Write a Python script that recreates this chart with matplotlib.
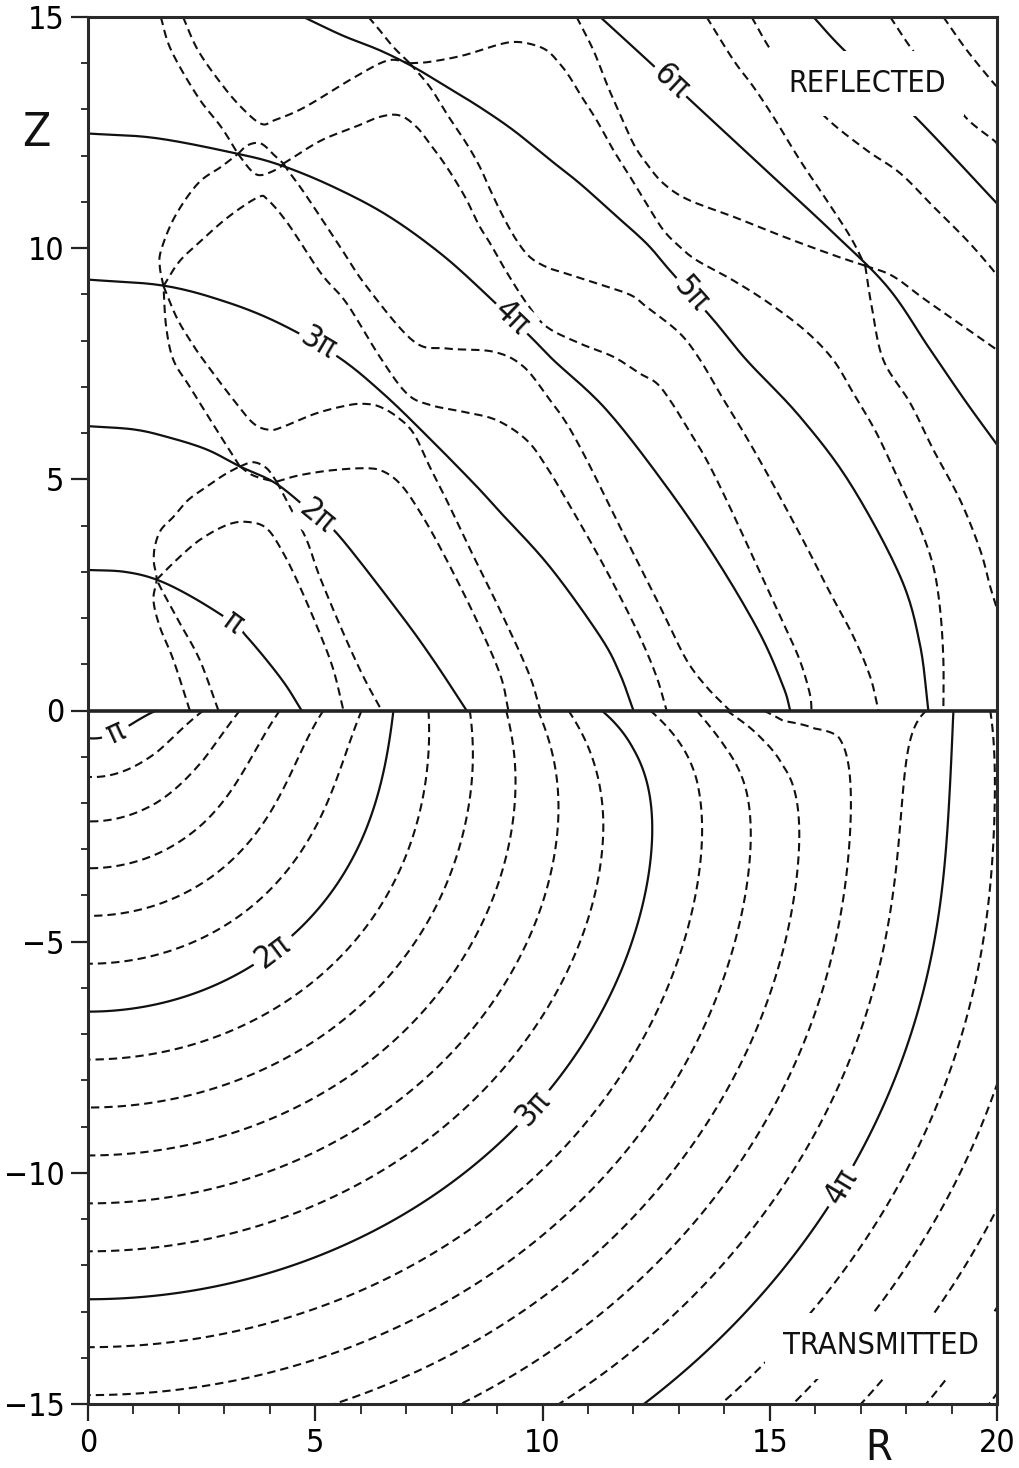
import numpy as np
import matplotlib
matplotlib.use("Agg")
import matplotlib.pyplot as plt
from matplotlib import font_manager

# Prefer a narrow sans face for all text when one is available.
_faces = {(f.name, f.stretch) for f in font_manager.fontManager.ttflist}
_names = {n for n, _ in _faces}
if 'Liberation Sans Narrow' in _names:
    plt.rcParams['font.family'] = ['Liberation Sans Narrow', 'DejaVu Sans']
elif ('DejaVu Sans', 'condensed') in _faces or ('DejaVu Sans', 'semi-condensed') in _faces:
    plt.rcParams['font.family'] = ['DejaVu Sans']
    plt.rcParams['font.stretch'] = 'condensed'
else:
    plt.rcParams['font.family'] = ['Liberation Sans', 'DejaVu Sans']
plt.rcParams['lines.scale_dashes'] = False
plt.rcParams['lines.dashed_pattern'] = [6.0, 3.6]
plt.rcParams['axes.unicode_minus'] = True

PI = "\u03c0"
INK = "#111111"
LABEL_SIZE = 23

# ---------------------------------------------------------------------------
# Transmitted half (z < 0): phase in units of pi
# ---------------------------------------------------------------------------
PHASE0 = 0.953          # phase of the deep wavefronts at the origin (units of pi)
K_T = 0.505             # transmitted wavenumber
# phase read along the interface z = 0
IFACE_R = [0.0, 1.5, 2.54, 3.34, 4.22, 5.18, 6.02, 6.72, 7.49, 8.4, 9.2, 9.9,
           10.57, 11.3, 12.37, 13.39, 14.05, 14.86, 15.3, 16.0, 16.5, 17.2,
           18.45, 19.04, 19.85, 21.0]
IFACE_PHASE = [0.85, 1.0, 7/6, 8/6, 9/6, 10/6, 11/6, 2.0, 13/6, 14/6, 15/6, 16/6,
               17/6, 3.0, 19/6, 20/6, 21/6, 22/6, 3.74, 3.745, 3.72, 3.74,
               23/6, 4.0, 25/6, 4.35]
# depth over which the interface phase fades into the deep wavefronts
DECAY_R = [0.0, 12.0, 14.5, 17.5, 20.5]
DECAY_D = [0.8, 1.25, 0.9, 0.9, 1.0]
T_SOLID = [1.0, 2.0, 3.0, 4.0]
T_DASHED = [1 + k / 6 for k in range(1, 24) if k % 6]
T_LABELS = {1.0: PI, 2.0: "2" + PI, 3.0: "3" + PI, 4.0: "4" + PI}
T_LABEL_POS = [(0.62, -0.5), (4.15, -5.3), (9.8, -8.6), (16.5, -10.25)]

# ---------------------------------------------------------------------------
# Reflected half (z > 0): constant-phase curves, (R, Z) pairs
# ---------------------------------------------------------------------------
R_SOLID = {
    1: [(0, 3.04), (0.8, 3.0), (1.51, 2.83), (2.3, 2.45), (3.2, 1.89), (3.49, 1.6),
        (3.93, 1.09), (4.35, 0.55), (4.7, 0)],
    2: [(0, 6.15), (1.0, 6.08), (1.73, 5.92), (2.6, 5.65), (3.34, 5.28), (4.15, 4.9),
        (5.03, 4.19), (5.54, 3.76), (6.86, 2.1), (7.6, 1.09), (8.33, 0)],
    3: [(0, 9.32), (1.66, 9.19), (3.0, 8.85), (4.22, 8.37), (5.5, 7.65), (6.5, 6.85),
        (7.5, 5.9), (8.5, 4.9), (9.06, 4.3), (10.16, 3.11), (11.27, 1.6), (11.7, 0.8),
        (12.0, 0)],
    4: [(0, 12.48), (1.5, 12.38), (3.3, 12.04), (4.25, 11.79), (5.39, 11.33),
        (6.6, 10.7), (7.8, 9.85), (8.85, 8.92), (9.73, 8.09), (10.24, 7.58),
        (11.41, 6.5), (12.73, 4.84), (13.83, 3.26), (14.78, 1.67), (15.3, 0.51),
        (15.45, 0)],
    5: [(4.74, 15.0), (5.6, 14.6), (6.42, 14.28), (7.16, 13.92), (7.89, 13.49),
        (8.62, 13.05), (9.36, 12.55), (10.09, 11.97), (10.82, 11.4), (11.56, 10.75),
        (12.29, 10.1), (12.8, 9.52), (13.76, 8.45), (14.49, 7.58), (15.66, 6.36),
        (16.77, 4.91), (17.87, 2.9), (18.3, 1.45), (18.49, 0)],
    6: [(11.27, 15.0), (12.37, 14.01), (13.32, 13.14), (14.9, 11.7), (16.4, 10.33),
        (17.6, 9.15), (18.5, 7.85), (19.3, 6.7), (20.0, 5.75)],
    7: [(15.96, 15.0), (16.66, 14.26), (18.16, 12.88), (19.92, 11.05), (20.0, 10.97)],
}
R_LABEL_POS = {1: (3.2, 1.89), 2: (5.03, 4.19), 3: (5.07, 8.0), 4: (9.3, 8.45),
               5: (13.14, 8.95), 6: (12.8, 13.55)}

R_DASHED = [
    [(2.24, 0), (1.88, 1.09), (1.58, 1.81), (1.44, 2.39), (1.51, 2.83), (1.45, 3.2),
     (1.47, 3.54), (1.6, 3.9), (1.88, 4.19), (2.2, 4.55), (2.61, 4.84), (3.0, 5.1),
     (3.34, 5.28)],
    [(2.87, 0), (2.46, 1.09), (2.02, 1.89), (1.66, 2.54), (1.51, 2.83)],
    [(1.51, 2.83), (1.95, 3.26), (2.46, 3.69), (3.05, 4.01), (3.49, 4.08), (3.93, 3.94),
     (4.3, 3.4), (4.66, 2.68), (5.1, 1.67), (5.4, 0.88), (5.62, 0)],
    [(3.34, 5.28), (3.64, 5.37), (3.93, 5.24), (4.15, 4.95)],
    [(3.34, 5.28), (3.6, 5.1), (3.9, 5.0), (4.15, 4.95)],
    [(4.15, 4.95), (4.44, 4.41), (4.81, 3.69), (5.1, 2.89), (5.62, 1.67), (6.06, 0.73),
     (6.46, 0)],
    [(4.15, 4.95), (4.66, 5.09), (5.4, 5.2), (6.13, 5.24), (6.5, 5.17), (6.86, 4.91),
     (7.23, 4.41), (7.74, 3.54), (8.48, 2.1), (9.06, 0.8), (9.25, 0)],
    [(3.34, 5.28), (2.83, 6.07), (2.24, 7.0), (1.88, 7.58), (1.72, 8.3), (1.66, 9.18)],
    [(1.66, 9.18), (1.95, 8.5), (2.25, 8.0), (2.54, 7.58), (3.2, 6.72), (3.64, 6.21),
     (4.0, 6.07), (4.3, 6.14), (5.03, 6.43), (5.76, 6.61), (6.13, 6.63), (6.42, 6.57),
     (6.79, 6.36), (7.16, 6.0), (7.52, 5.27), (7.89, 4.55), (8.45, 3.4), (9.1, 2.1),
     (9.7, 0.8), (9.95, 0)],
    [(1.66, 9.18), (1.58, 9.6), (1.61, 9.96), (1.91, 10.68), (2.42, 11.4), (2.93, 11.76),
     (3.3, 12.04)],
    [(1.66, 9.18), (2.0, 9.7), (2.42, 10.1), (3.08, 10.67), (3.74, 11.1), (3.96, 11.04),
     (4.4, 10.53), (5.13, 9.45), (5.69, 8.81), (6.42, 7.65), (7.01, 6.86), (7.52, 6.61),
     (8.26, 6.46), (8.99, 6.28), (9.65, 5.85), (10.09, 5.27), (10.53, 4.55),
     (11.12, 3.54), (11.63, 2.61), (12.14, 1.6), (12.51, 0.73), (12.73, 0)],
    [(3.3, 12.04), (3.52, 12.23), (3.81, 12.26), (4.11, 12.0), (4.3, 11.83)],
    [(3.3, 12.04), (3.59, 11.68), (3.81, 11.58), (4.18, 11.72), (4.3, 11.83)],
    [(4.3, 11.83), (4.4, 11.68), (4.77, 11.18), (5.5, 10.1), (6.13, 9.17), (7.16, 7.99),
     (7.89, 7.83), (8.92, 7.76), (9.58, 7.44), (10.16, 6.72), (10.53, 6.21),
     (10.9, 5.56), (11.27, 4.84), (11.63, 4.12), (12.0, 3.4), (12.44, 2.54),
     (12.73, 1.96), (13.17, 1.09), (13.61, 0.51), (14.12, 0)],
    [(4.3, 11.83), (4.4, 11.89), (5.13, 12.33), (5.87, 12.62), (6.42, 12.84),
     (6.86, 12.87), (7.23, 12.62), (7.52, 12.26), (7.89, 11.76), (8.3, 11.1),
     (8.6, 10.5), (8.85, 10.1), (9.2, 9.5), (9.65, 8.81), (10.09, 8.3), (10.82, 7.94),
     (11.56, 7.65), (12.14, 7.29), (12.51, 7.08), (12.8, 6.72), (13.17, 6.14),
     (13.61, 5.42), (14.05, 4.55), (14.49, 3.62), (14.93, 2.68), (15.3, 1.89),
     (15.66, 1.09), (15.88, 0.37), (15.92, 0)],
    [(1.6, 15.0), (1.83, 14.28), (2.42, 13.27), (2.93, 12.62), (3.3, 12.04)],
    [(2.09, 15.0), (2.42, 14.28), (2.93, 13.56), (3.37, 13.05), (3.81, 12.69),
     (4.11, 12.77), (4.77, 13.05), (5.87, 13.7), (6.6, 14.06), (7.08, 14.0)],
    [(6.17, 15.0), (6.42, 14.71), (6.72, 14.35), (7.08, 14.0)],
    [(7.08, 14.0), (7.52, 14.03), (8.26, 14.17), (8.99, 14.39), (9.36, 14.46),
     (9.72, 14.42), (10.09, 14.28), (10.38, 13.99), (10.6, 13.7), (10.82, 13.34),
     (11.19, 12.77), (11.56, 12.12), (11.93, 11.54), (12.29, 10.96), (12.66, 10.39),
     (13.02, 10.03), (13.39, 9.74), (14.2, 9.3), (15.0, 8.8), (15.8, 8.2),
     (16.4, 7.58), (16.84, 6.86), (17.35, 6.0), (17.87, 4.91), (18.3, 3.97),
     (18.6, 3.11), (18.75, 2.17), (18.82, 1.09), (18.82, 0)],
    [(7.08, 14.0), (7.52, 13.49), (7.89, 12.91), (8.33, 12.26), (8.62, 11.76),
     (8.85, 11.26), (9.14, 10.67), (9.43, 10.17), (9.72, 9.81), (10.09, 9.59),
     (10.46, 9.47), (11.19, 9.24), (11.93, 8.99), (12.29, 8.73), (13.02, 8.16),
     (13.47, 7.58), (13.9, 6.86), (14.35, 6.14), (14.86, 5.27), (15.3, 4.48),
     (15.81, 3.54), (16.33, 2.54), (16.84, 1.6), (17.21, 0.73), (17.39, 0)],
    # curves meeting on the 6-pi front near (17.1, 9.6)
    [(10.75, 15.0), (11.12, 14.28), (11.41, 13.56), (11.7, 12.91), (12.0, 12.26),
     (12.29, 11.83), (12.66, 11.4), (13.2, 11.05), (14.2, 10.68), (15.3, 10.25),
     (16.4, 9.85), (17.1, 9.62)],
    [(13.61, 15.0), (14.2, 14.07), (14.64, 13.49), (15.08, 12.84), (15.66, 11.91),
     (16.25, 11.04), (16.77, 10.25), (17.1, 9.62)],
    [(17.1, 9.62), (17.25, 8.7), (17.5, 7.58), (18.09, 6.65), (18.6, 5.64),
     (19.19, 4.55), (19.63, 3.47), (19.85, 2.68), (20.0, 2.2)],
    [(17.1, 9.62), (17.7, 9.4), (18.4, 8.9), (19.2, 8.35), (20.0, 7.8)],
    [(14.6, 15.0), (15.04, 14.26), (15.6, 13.55), (16.25, 12.81), (17.13, 12.12),
     (17.87, 11.62), (18.6, 10.9), (19.33, 10.18), (19.85, 9.6), (20.0, 9.4)],
    [(17.65, 15.0), (18.16, 14.26), (18.8, 13.5), (19.33, 12.81), (19.92, 12.34),
     (20.0, 12.25)],
    [(18.82, 15.0), (19.33, 14.29), (19.9, 13.6), (20.0, 13.5)],
]


def spline(pts, n=14):
    """Catmull-Rom curve through the given (R, Z) points."""
    P = np.asarray(pts, float)
    if len(P) < 3:
        return P
    E = np.vstack([2 * P[0] - P[1], P, 2 * P[-1] - P[-2]])
    t = np.linspace(0, 1, n, endpoint=False)[:, None]
    out = []
    for i in range(1, len(E) - 2):
        p0, p1, p2, p3 = E[i - 1:i + 3]
        out.append(0.5 * (2 * p1 + (-p0 + p2) * t
                          + (2 * p0 - 5 * p1 + 4 * p2 - p3) * t ** 2
                          + (-p0 + 3 * p1 - 3 * p2 + p3) * t ** 3))
    out.append(P[-1:])
    return np.vstack(out)


fig = plt.figure(figsize=(10.2, 14.68), dpi=100)
ax = fig.add_axes([88 / 1020, 1 - 1404 / 1468, (997 - 88) / 1020, (1404 - 17) / 1468])
ax.set_xlim(0, 20)
ax.set_ylim(-15, 15)

# ---- transmitted field
rg = np.linspace(0, 20.2, 606)
zg = np.linspace(-15.2, 0, 460)
RR, ZZ = np.meshgrid(rg, zg)
depth = np.abs(ZZ)
flat = 0.15 * (np.log1p(np.exp(depth - 2.0)) - np.log1p(np.exp(-2.0)))
dist = np.sqrt(RR ** 2 + (depth + flat) ** 2) - flat
deep = PHASE0 + K_T / np.pi * dist
edge = np.interp(RR, IFACE_R, IFACE_PHASE) - (PHASE0 + K_T / np.pi * RR)
decay = np.interp(RR, DECAY_R, DECAY_D)
phase_t = deep + edge * np.exp(ZZ / decay)

ax.contour(RR, ZZ, phase_t, levels=T_DASHED, colors=INK, linewidths=1.5,
           linestyles='dashed', zorder=2)
cs = ax.contour(RR, ZZ, phase_t, levels=T_SOLID, colors=INK, linewidths=1.6,
                linestyles='solid', zorder=2)
ax.clabel(cs, levels=T_SOLID, fmt=T_LABELS, manual=T_LABEL_POS, inline=True,
          inline_spacing=6, fontsize=LABEL_SIZE, colors=INK)

# ---- reflected curves
for pts in R_DASHED:
    c = spline(pts)
    ax.plot(c[:, 0], c[:, 1], color=INK, lw=1.5, ls='dashed', zorder=2,
            dash_capstyle='butt')
for n, pts in R_SOLID.items():
    c = spline(pts)
    ax.plot(c[:, 0], c[:, 1], color=INK, lw=1.6, zorder=2)

fig.canvas.draw()


def label_on(curve, x, y, text):
    c = spline(curve)
    d = np.hypot(c[:, 0] - x, c[:, 1] - y)
    i = int(np.clip(np.argmin(d), 1, len(c) - 2))
    a, b = ax.transData.transform(c[i - 1]), ax.transData.transform(c[i + 1])
    ang = np.degrees(np.arctan2(b[1] - a[1], b[0] - a[0]))
    if ang > 90:
        ang -= 180
    if ang < -90:
        ang += 180
    ax.text(c[i, 0], c[i, 1], text, rotation=ang, rotation_mode='anchor',
            ha='center', va='center', fontsize=LABEL_SIZE, color=INK, zorder=5,
            bbox=dict(boxstyle='square,pad=0.12', fc='white', ec='none'))


for n, (x, y) in R_LABEL_POS.items():
    label_on(R_SOLID[n], x, y, (PI if n == 1 else f"{n}{PI}"))

# ---- region titles, sized to their printed width
renderer = fig.canvas.get_renderer()
for txt, x, y, width_px in [("REFLECTED", 17.15, 13.56, 158),
                            ("TRANSMITTED", 17.45, -13.74, 196)]:
    t = ax.text(x, y, txt, fontsize=24, ha='center', va='center', color=INK,
                zorder=6, bbox=dict(boxstyle='square,pad=0.6', fc='white', ec='none'))
    w = t.get_window_extent(renderer).width
    t.set_fontsize(24 * width_px / w)

# ---- interface and frame
ax.axhline(0, color='#222222', lw=2.6, zorder=4)
for s in ax.spines.values():
    s.set_linewidth(2.2)
    s.set_color('#2a2a2a')
    s.set_zorder(7)

ax.set_xticks([0, 5, 10, 15, 20])
ax.set_xticks(np.arange(0, 21, 1), minor=True)
ax.set_yticks(np.arange(-15, 16, 5))
ax.set_yticks(np.arange(-15, 16, 1), minor=True)
ax.tick_params(which='major', direction='out', length=12, width=1.6,
               labelsize=23, pad=5, color='#222222')
ax.tick_params(axis='x', which='minor', direction='out', length=7, width=1.3,
               color='#222222')
ax.tick_params(axis='y', which='minor', direction='out', length=5, width=1.3,
               color='#222222')

fig.text(36 / 1020, 1 - 133 / 1468, "Z", fontsize=33, ha='center', va='center',
         color=INK)
fig.text(879 / 1020, 1 - 1448 / 1468, "R", fontsize=31, ha='center', va='center',
         color=INK)

fig.savefig("out.png", dpi=100)
